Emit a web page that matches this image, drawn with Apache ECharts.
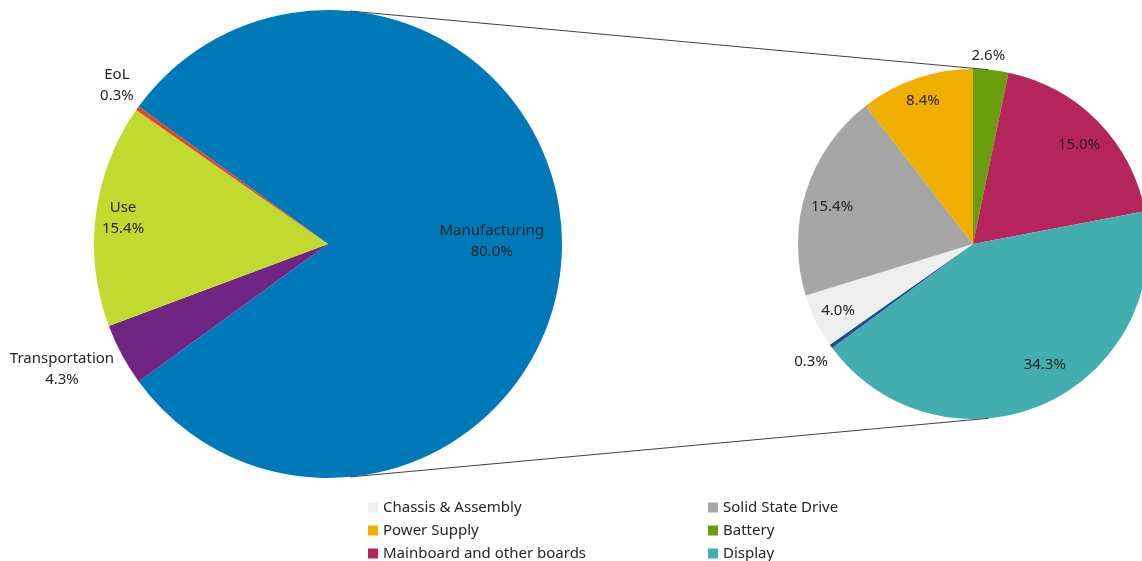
<!DOCTYPE html>
<html><head><meta charset="utf-8">
<script src="https://cdn.jsdelivr.net/npm/echarts@6/dist/echarts.min.js"></script>
<style>html,body{margin:0;padding:0;background:#fff}#c{width:1142px;height:561px}</style>
</head><body><div id="c"></div>
<script>
// ---- data ----
const stageNames = ['Manufacturing', 'Transportation', 'Use', 'EoL'];
const stageValues = [80.0, 4.3, 15.4, 0.3];
const partNames = ['Battery', 'Mainboard and other boards', 'Display', 'Other', 'Chassis & Assembly', 'Solid State Drive', 'Power Supply'];
const partValues = [2.6, 15.0, 34.3, 0.3, 4.0, 15.4, 8.4];
const legendLeft = ['Chassis & Assembly', 'Power Supply', 'Mainboard and other boards'];
const legendRight = ['Solid State Drive', 'Battery', 'Display'];

// ---- style ----
const stageColors = ['#0079B8', '#702584', '#C2D92F', '#E0442C'];
const partColors = ['#6A9E0F', '#B5245A', '#43AEB0', '#1F4E8C', '#EEEEEE', '#A6A6A6', '#F0AE00'];
// label placement: [radius factor, angle offset deg]
const stageLabelPos = [[0.70, 0.8], [1.256, -3.1], [0.883, 0], [1.129, -1.5]];
const partLabelPos = [[1.078, 1.2], [0.829, -1.5], [0.805, 7], [1.145, 0.3], [0.861, 0.3], [0.833, 2.8], [0.866, 0.4]];

const FONT = 'Noto Sans';
const L = { cx: 328, cy: 244, r: 234, start: 144 };
const R = { cx: 973, cy: 244, r: 175, start: 90 };

function midAngles(values, start) {
  const total = values.reduce((a, b) => a + b, 0);
  let a = start; const out = [];
  values.forEach(v => { const sweep = v / total * 360; out.push(a - sweep / 2); a -= sweep; });
  return out;
}
const stageMid = midAngles(stageValues, L.start);
const partMid = midAngles(partValues, R.start);

function placeLabel(geo, mids, pos) {
  return function (p) {
    const i = p.dataIndex;
    const ang = (mids[i] + pos[i][1]) * Math.PI / 180;
    const rr = geo.r * pos[i][0];
    return { x: geo.cx + rr * Math.cos(ang), y: geo.cy - rr * Math.sin(ang), align: 'center', verticalAlign: 'middle' };
  };
}

function pt(geo, deg) {
  const a = deg * Math.PI / 180;
  return [geo.cx + geo.r * Math.cos(a), geo.cy - geo.r * Math.sin(a)];
}
const lt = pt(L, 84.6), lb = pt(L, -84.6), rt = pt(R, 85), rb = pt(R, -85);

const chart = echarts.init(document.getElementById('c'), null, { renderer: 'canvas' });
const legendCommon = {
  orient: 'vertical', top: 500, height: 120, icon: 'rect', itemWidth: 10, itemHeight: 10, itemGap: 8, itemTextGap: 4,
  selectedMode: false, padding: 0,
  textStyle: { fontFamily: FONT, fontSize: 15, color: '#262626', lineHeight: 15 }
};
chart.setOption({
  animation: false,
  backgroundColor: '#fff',
  legend: [
    Object.assign({ left: 368, data: legendLeft }, legendCommon),
    Object.assign({ left: 708, data: legendRight }, legendCommon)
  ],
  series: [
    {
      type: 'pie', center: [L.cx, L.cy], radius: L.r, startAngle: L.start, clockwise: true,
      silent: true, itemStyle: { borderWidth: 0 },
      label: {
        show: true, position: 'inside', fontFamily: FONT, fontSize: 15, color: '#262626', lineHeight: 21,
        formatter: p => p.name + '\n' + p.value.toFixed(1) + '%'
      },
      labelLine: { show: false },
      labelLayout: placeLabel(L, stageMid, stageLabelPos),
      data: stageNames.map((n, i) => ({ name: n, value: stageValues[i], itemStyle: { color: stageColors[i] } }))
    },
    {
      type: 'pie', center: [R.cx, R.cy], radius: R.r, startAngle: R.start, clockwise: true,
      silent: true, itemStyle: { borderWidth: 0 },
      label: {
        show: true, position: 'inside', fontFamily: FONT, fontSize: 15, color: '#262626',
        formatter: p => p.value.toFixed(1) + '%'
      },
      labelLine: { show: false },
      labelLayout: placeLabel(R, partMid, partLabelPos),
      data: partNames.map((n, i) => ({ name: n, value: partValues[i], itemStyle: { color: partColors[i] } }))
    }
  ],
  graphic: [
    { type: 'line', shape: { x1: lt[0], y1: lt[1], x2: rt[0], y2: rt[1] }, style: { stroke: '#404040', lineWidth: 1 }, z: 10 },
    { type: 'line', shape: { x1: lb[0], y1: lb[1], x2: rb[0], y2: rb[1] }, style: { stroke: '#404040', lineWidth: 1 }, z: 10 }
  ]
});
</script></body></html>
